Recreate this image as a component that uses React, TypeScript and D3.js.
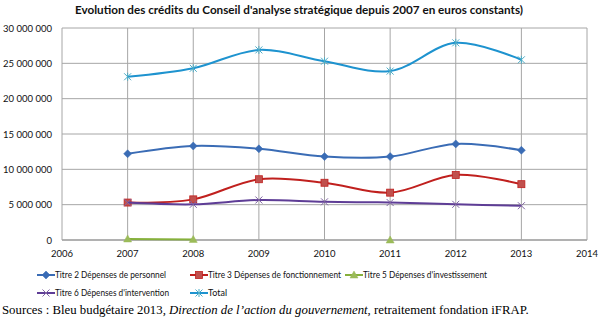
import React from "react";
import * as d3 from "d3";

const years = [2007, 2008, 2009, 2010, 2011, 2012, 2013];
const titre2 = [12200000, 13300000, 12900000, 11800000, 11800000, 13600000, 12700000];
const titre3 = [5300000, 5750000, 8600000, 8100000, 6700000, 9200000, 7900000];
const titre5: (number | null)[] = [150000, 80000, null, null, 0, null, null];
const titre6 = [5300000, 5050000, 5660000, 5400000, 5300000, 5050000, 4850000];
const total = [23100000, 24300000, 26900000, 25300000, 23900000, 27900000, 25500000];
const xTicks = [2006, 2007, 2008, 2009, 2010, 2011, 2012, 2013, 2014];
const yTicks = [0, 5000000, 10000000, 15000000, 20000000, 25000000, 30000000];

const series = [
  { name: "Titre 2 Dépenses de personnel", values: titre2 as (number | null)[], color: "#3a6cb5", marker: "diamond" },
  { name: "Titre 3 Dépenses de fonctionnement", values: titre3 as (number | null)[], color: "#c0201e", marker: "square", mfill: "#c0504d" },
  { name: "Titre 5 Dépenses d'investissement", values: titre5, color: "#86b03c", marker: "triangle", mfill: "#9bbb59" },
  { name: "Titre 6 Dépenses d'intervention", values: titre6 as (number | null)[], color: "#5e3d96", marker: "x", mfill: "#8064a2" },
  { name: "Total", values: total as (number | null)[], color: "#1e93cf", marker: "star", mfill: "#4bacc6" },
];

const fmt = (v: number) => {
  const s = String(v);
  return s.replace(/\B(?=(\d{3})+(?!\d))/g, " ");
};

function Marker({ type, x, y, color, fill }: { type: string; x: number; y: number; color: string; fill?: string }) {
  const f = fill || color;
  if (type === "diamond")
    return <path d={`M${x},${y - 4}L${x + 4},${y}L${x},${y + 4}L${x - 4},${y}Z`} fill={f} stroke={color} strokeWidth={0.5} />;
  if (type === "square")
    return <rect x={x - 3.5} y={y - 3.5} width={7} height={7} fill={f} stroke={color} strokeWidth={0.8} />;
  if (type === "triangle")
    return <path d={`M${x},${y - 4}L${x + 4},${y + 3}L${x - 4},${y + 3}Z`} fill={f} stroke={f} strokeWidth={0.5} />;
  if (type === "x")
    return <path d={`M${x - 3.5},${y - 3.5}L${x + 3.5},${y + 3.5}M${x - 3.5},${y + 3.5}L${x + 3.5},${y - 3.5}`} stroke={f} strokeWidth={1} fill="none" />;
  return (
    <path
      d={`M${x - 3.5},${y - 3.5}L${x + 3.5},${y + 3.5}M${x - 3.5},${y + 3.5}L${x + 3.5},${y - 3.5}M${x},${y - 4}L${x},${y + 4}`}
      stroke={f}
      strokeWidth={1}
      fill="none"
    />
  );
}

export default function App() {
  const W = 600, H = 323;
  const left = 62, right = 587, top = 28, bottom = 240;
  const x = d3.scaleLinear().domain([2006, 2014]).range([left, right]);
  const y = d3.scaleLinear().domain([0, 30000000]).range([bottom, top]);
  const line = d3
    .line<[number, number | null]>()
    .defined((d) => d[1] !== null)
    .x((d) => x(d[0]))
    .y((d) => y(d[1] as number))
    .curve(d3.curveCatmullRom.alpha(0.5));

  const font = "Lato, 'Open Sans', 'DejaVu Sans', sans-serif";
  const legend = [
    { s: series[0], lx: 37, ly: 275, tw: 111 },
    { s: series[1], lx: 190, ly: 275, tw: 133 },
    { s: series[2], lx: 345, ly: 275, tw: 124 },
    { s: series[3], lx: 37, ly: 293, tw: 114 },
    { s: series[4], lx: 190, ly: 293, tw: 19 },
  ];

  return (
    <svg width={W} height={H} style={{ position: "absolute", left: 0, top: 0, background: "#fff" }}>
      <rect width={W} height={H} fill="#fff" />
      <text
        x={75}
        y={14}
        textLength={448}
        lengthAdjust="spacingAndGlyphs"
        fontFamily={font}
        fontWeight="bold"
        fontSize={11}
        fill="#111"
      >
        Evolution des crédits du Conseil d'analyse stratégique depuis 2007 en euros constants)
      </text>
      {yTicks.map((t) => (
        <g key={"y" + t}>
          <line x1={left} x2={right} y1={y(t)} y2={y(t)} stroke="#a6a6a6" strokeWidth={1} />
          <text x={52} y={y(t) + 3.5} textAnchor="end" fontFamily={font} fontSize={9.5} fill="#111">
            {fmt(t)}
          </text>
        </g>
      ))}
      {xTicks.map((t) => (
        <g key={"x" + t}>
          <line x1={x(t)} x2={x(t)} y1={top} y2={bottom} stroke="#a6a6a6" strokeWidth={1} />
          <text x={x(t)} y={257} textAnchor="middle" fontFamily={font} fontSize={9.5} fill="#111">
            {t}
          </text>
        </g>
      ))}
      <line x1={left} x2={right} y1={bottom} y2={bottom} stroke="#a6a6a6" strokeWidth={1.5} />
      {series.map((s) => {
        const pts = years.map((yr, i) => [yr, s.values[i]] as [number, number | null]);
        return (
          <g key={s.name}>
            <path d={line(pts) || ""} fill="none" stroke={s.color} strokeWidth={2} />
            {pts
              .filter((p) => p[1] !== null)
              .map((p) => (
                <Marker key={p[0]} type={s.marker} x={x(p[0])} y={y(p[1] as number)} color={s.color} fill={s.mfill} />
              ))}
          </g>
        );
      })}
      {legend.map(({ s, lx, ly, tw }) => (
        <g key={"l" + s.name}>
          <line x1={lx} x2={lx + 18} y1={ly} y2={ly} stroke={s.color} strokeWidth={2} />
          <Marker type={s.marker} x={lx + 9} y={ly} color={s.color} fill={s.mfill} />
          <text
            x={lx + 18}
            y={ly + 3}
            textLength={tw}
            lengthAdjust="spacingAndGlyphs"
            fontFamily={font}
            fontSize={9}
            fill="#111"
          >
            {s.name}
          </text>
        </g>
      ))}
      <text x={2} y={314} fontFamily="'Liberation Serif', 'DejaVu Serif', serif" fontSize={12.8} fill="#000">
        Sources : Bleu budgétaire 2013, <tspan fontStyle="italic">Direction de l’action du gouvernement</tspan>, retraitement fondation iFRAP.
      </text>
    </svg>
  );
}
